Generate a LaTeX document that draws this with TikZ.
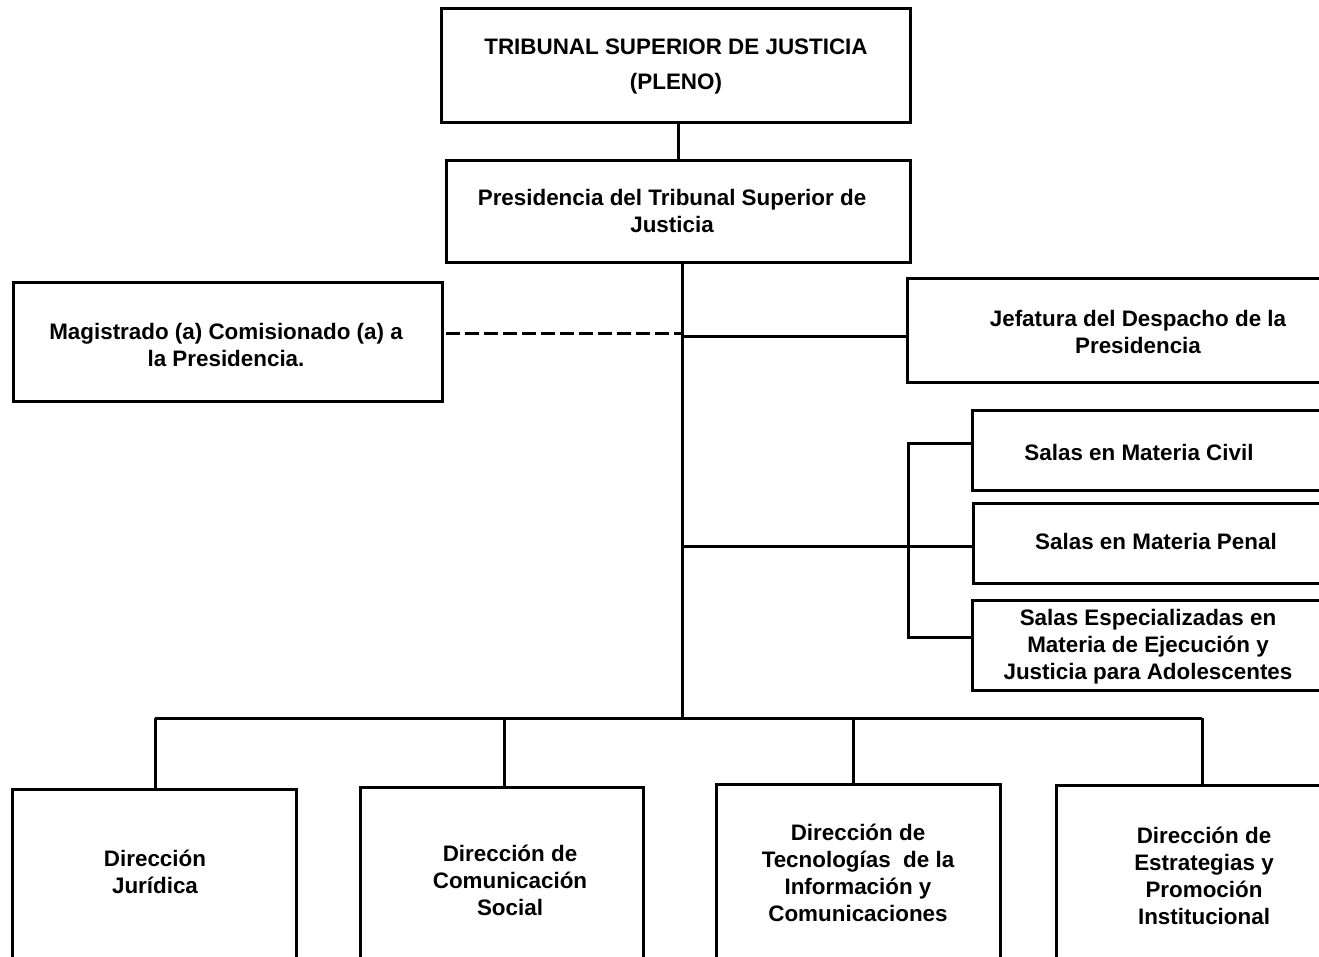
\documentclass[tikz,border=0pt]{standalone}
\usepackage{fontspec}
\setmainfont{Liberation Sans}
\begin{document}
\begin{tikzpicture}[x=1pt,y=-1pt,
  box/.style={draw, line width=3pt, inner sep=0pt, outer sep=0pt, anchor=north west},
  txt/.style={font=\fontsize{22.4}{27}\selectfont\bfseries, align=center, inner sep=0pt},
  conn/.style={line width=3pt}]
\useasboundingbox (0,0) rectangle (1319,956);
\clip (0,0) rectangle (1319,956);
\fill[white] (0,0) rectangle (1319,956);
% boxes
\node[box, minimum width=469pt, minimum height=114pt] (top) at (441,8) {};
\node[box, minimum width=464pt, minimum height=102pt] (pres) at (446,160) {};
\node[box, minimum width=429pt, minimum height=119pt] (mag) at (13,282) {};
\node[box, minimum width=460pt, minimum height=104pt] (jef) at (907,278) {};
\node[box, minimum width=400pt, minimum height=80pt] (civ) at (972,410) {};
\node[box, minimum width=400pt, minimum height=80pt] (pen) at (973,503) {};
\node[box, minimum width=400pt, minimum height=90pt] (esp) at (972,600) {};
\node[box, minimum width=284pt, minimum height=200pt] (jur) at (12,789) {};
\node[box, minimum width=283pt, minimum height=200pt] (com) at (360,787) {};
\node[box, minimum width=284pt, minimum height=200pt] (tec) at (716,784) {};
\node[box, minimum width=292pt, minimum height=200pt] (est) at (1056,785) {};
% texts
\node[txt] (topT) at (676,67) {TRIBUNAL SUPERIOR DE JUSTICIA\\[8pt](PLENO)};
\node[txt] (presT) at (672,211) {Presidencia del Tribunal Superior de\\Justicia};
\node[txt] (magT) at (226,345) {Magistrado (a) Comisionado (a) a\\la Presidencia.};
\node[txt] (jefT) at (1138,332) {Jefatura del Despacho de la\\Presidencia};
\node[txt] (civT) at (1139,452) {Salas en Materia Civil};
\node[txt] (penT) at (1156,541) {Salas en Materia Penal};
\node[txt] (espT) at (1148,647) {Salas Especializadas en\\Materia de Ejecución y\\Justicia para Adolescentes};
\node[txt] (jurT) at (155,872) {Dirección\\Jurídica};
\node[txt] (comT) at (510,880) {Dirección de\\Comunicación\\Social};
\node[txt] (tecT) at (858,873) {Dirección de\\Tecnologías~ de la\\Información y\\Comunicaciones};
\node[txt] (estT) at (1204,876) {Dirección de\\Estrategias y\\Promoción\\Institucional};
% coordinates
\coordinate (m) at (682,718);
\coordinate (dm) at (682,333);
\coordinate (dj) at (682,336);
\coordinate (bc) at (908,443);
\coordinate (bp) at (908,546);
\coordinate (be) at (908,637);
\coordinate (d1) at (155,718);
\coordinate (d2) at (504,718);
\coordinate (d3) at (853,718);
\coordinate (d4) at (1202,718);
% connectors
\draw[conn] (pres.north |- top.south) -- (pres.north);
\draw[conn] (pres.south -| m) -- (m);
\draw[conn, dash pattern=on 14pt off 5pt] (dm -| mag.east) ++(4,0) -- (dm);
\draw[conn] (dj) -- (dj -| jef.west);
\draw[conn] (bc -| civ.west) -- (bc) -- (be) -- (be -| esp.west);
\draw[conn] (bp -| m) -- (bp -| pen.west);
\draw[conn] (d1) -- (d4);
\draw[conn] (d1) -- (d1 |- jur.north);
\draw[conn] (d2) -- (d2 |- com.north);
\draw[conn] (d3) -- (d3 |- tec.north);
\draw[conn] (d4) -- (d4 |- est.north);
\end{tikzpicture}
\end{document}
